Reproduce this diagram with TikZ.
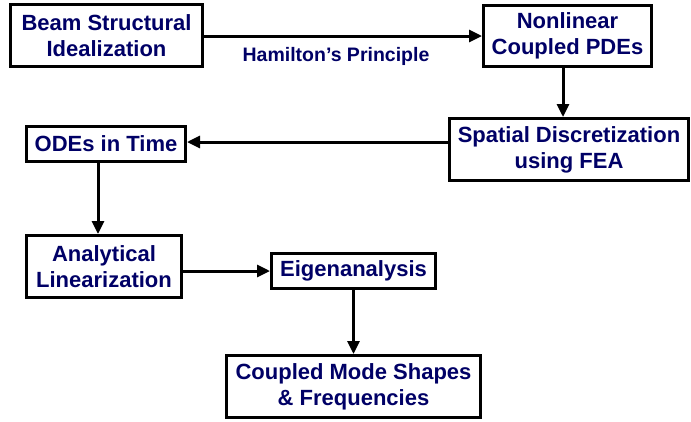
\documentclass[tikz,border=0pt]{standalone}
\usepackage{fontspec}
\setmainfont{Liberation Sans}
\usetikzlibrary{arrows.meta}
\definecolor{navy}{RGB}{0,0,102}
\begin{document}
\begin{tikzpicture}[x=1pt,y=-1pt,
  box/.style={draw=black,line width=3pt,fill=white,inner sep=0pt,align=center,
    font=\fontsize{22}{26}\selectfont\bfseries,text=navy},
  conn/.style={line width=3pt,-{Triangle[length=13pt,width=12pt]}},
  lbl/.style={font=\fontsize{19.5}{22}\selectfont\bfseries,text=navy,inner sep=0pt}]
\useasboundingbox (0,0) rectangle (691,421);
\node[box,minimum width=192pt,minimum height=62pt] (be) at (106.5,35.5) {Beam Structural\\Idealization};
\node[box,minimum width=168pt,minimum height=61pt] (nl) at (567.5,36) {Nonlinear\\Coupled PDEs};
\node[box,minimum width=239pt,minimum height=62pt] (sp) at (569,149.5) {Spatial Discretization\\using FEA};
\node[box,minimum width=159pt,minimum height=35pt] (od) at (106,144) {ODEs in Time};
\node[box,minimum width=155pt,minimum height=62pt] (an) at (104,266.5) {Analytical\\Linearization};
\node[box,minimum width=164pt,minimum height=35pt] (ei) at (353.5,271) {Eigenanalysis};
\node[box,minimum width=254pt,minimum height=62pt] (cm) at (353.5,386.5) {Coupled Mode Shapes\\\&~Frequencies};
\draw[conn] (be.east |- nl.west) -- (nl.west) node[lbl,midway,below=10pt,xshift=-7pt] (hp) {Hamilton’s Principle};
\draw[conn] ([xshift=-4.5pt]nl.south) -- ([xshift=-4.5pt]nl.south |- sp.north);
\draw[conn] ([yshift=2pt]sp.west |- od.east) -- ([yshift=2pt]od.east);
\draw[conn] ([xshift=-8pt]od.south) -- ([xshift=-8pt]od.south |- an.north);
\draw[conn] (an.east |- ei.west) -- (ei.west);
\draw[conn] (ei.south) -- (ei.south |- cm.north);
\end{tikzpicture}
\end{document}
